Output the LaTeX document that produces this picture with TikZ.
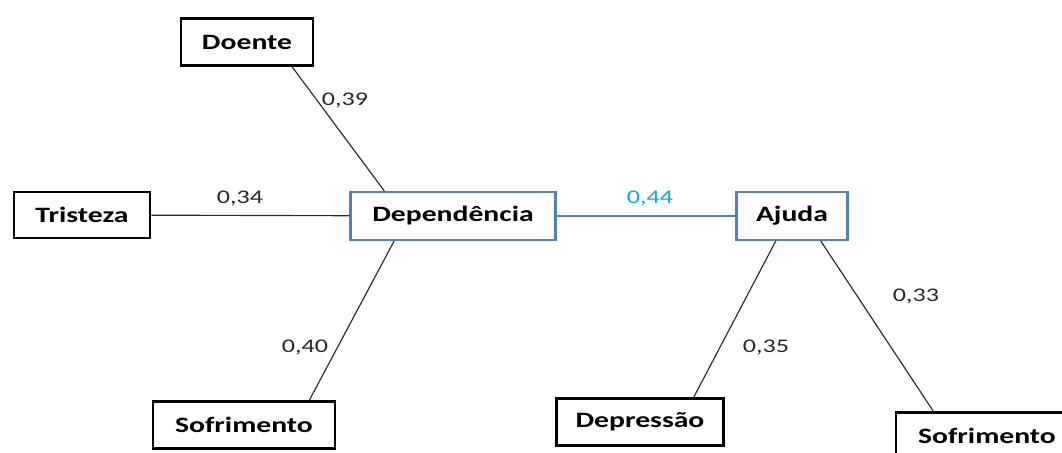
\documentclass[tikz,border=0pt]{standalone}
\usepackage{fontspec}
\setmainfont{Carlito}[FakeStretch=1.35]
\definecolor{caixaazul}{RGB}{79,129,189}
\definecolor{azulclaro}{RGB}{0,170,235}
\definecolor{cinzaesc}{RGB}{40,40,40}
\begin{document}
\begin{tikzpicture}[x=0.02cm,y=-0.02cm,
    caixa/.style={draw=black,line width=1.6pt,fill=white,inner sep=0pt,
        font=\fontsize{12.5}{14}\selectfont\bfseries,minimum height=0.95cm},
    caixab/.style={caixa,draw=caixaazul,line width=1.4pt},
    liga/.style={draw=cinzaesc,line width=0.65pt},
    peso/.style={text=cinzaesc,font=\fontsize{11}{13}\selectfont,inner sep=0pt}]
        \clip(0,0)rectangle(1062,453);
        \node[caixa,minimum width=2.64cm](doente)at(247,42){Doente};
        \node[caixa,minimum width=2.72cm,minimum height=0.92cm](trist)at(82,215){Tristeza};
        \node[caixab,minimum width=4.1cm](depend)at(453,216){Dependência};
        \node[caixab,minimum width=2.22cm](ajuda)at(792,216){Ajuda};
        \node[caixa,minimum width=3.64cm](sofr1)at(244,425){Sofrimento};
        \node[caixa,minimum width=3.34cm](depres)at(640,422){Depressão};
        \node[caixa,minimum width=3.64cm](sofr2)at(987,436){Sofrimento};
        \draw[liga](doente.-29)--(depend.160.6);
        \draw[liga](trist)--(depend);
        \draw[liga](depend.203.6)--(sofr1.21.4);
        \draw[draw=caixaazul,line width=0.8pt](depend)--(ajuda);
        \draw[liga](ajuda.237)--(depres.25.4);
        \draw[liga](ajuda.-41)--(sofr2.155.3);
        \node[peso](p1)at(345,100){0,39};
        \node[peso](p2)at(240,198){0,34};
        \node[peso](p3)at(305,347){0,40};
        \node[peso,text=azulclaro](p4)at(650,198){0,44};
        \node[peso](p5)at(766,347){0,35};
        \node[peso](p6)at(916,296){0,33};
    \end{tikzpicture}
\end{document}
